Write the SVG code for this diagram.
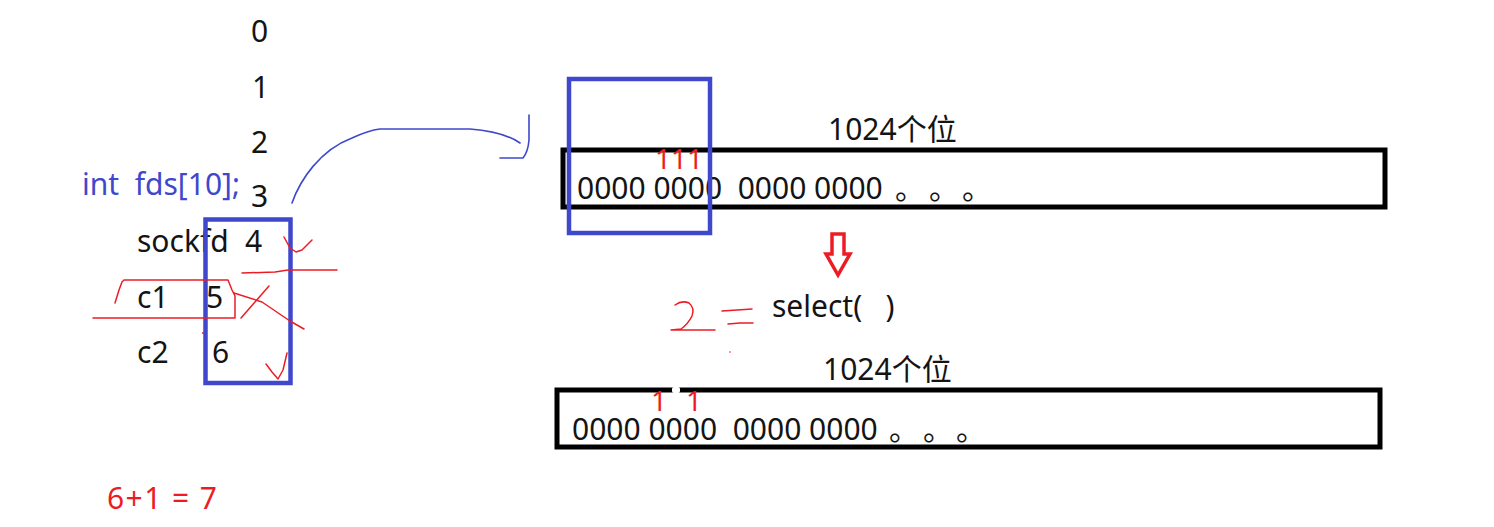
<svg xmlns="http://www.w3.org/2000/svg" width="1494" height="527" viewBox="0 0 1494 527">
<style>
.t{font-family:"Noto Sans","Noto Sans CJK SC",sans-serif;font-size:30px;fill:#141414;white-space:pre}
.cjk{font-family:"Noto Sans CJK SC",sans-serif}
.blue{fill:#3F48CC}
.red{fill:#ED1C24}
.box{fill:none;stroke:#000;stroke-width:5}
.sel{fill:none;stroke:#3F48CC;stroke-width:4.5}
.ink{fill:none;stroke:#ED1C24;stroke-width:1.5;stroke-linecap:round;stroke-linejoin:round}
.bink{fill:none;stroke:#3F48CC;stroke-width:1.6;stroke-linecap:round;stroke-linejoin:round}
</style>
<rect width="1494" height="527" fill="#fff"/>

<g id="fd-table">
<text class="t" x="251" y="42">0</text>
<text class="t" x="252" y="98">1</text>
<text class="t" x="251" y="153">2</text>
<text class="t" x="251" y="207">3</text>
<text class="t blue" x="82" y="195">int  fds[10];</text>
<text class="t" x="137" y="252">sockfd</text>
<text class="t" x="245" y="252">4</text>
<text class="t" x="137" y="308">c1</text>
<text class="t" x="206" y="308">5</text>
<text class="t" x="137" y="363">c2</text>
<text class="t" x="212" y="363">6</text>
<rect class="sel" x="205.5" y="219.5" width="85" height="163.5"/>
</g>

<g id="fd-marks">
<path class="ink" d="M284,237 L290,248 L296,252 L302,250 L312,240"/>
<path class="ink" d="M242,273 L275,272 L288,270 L337,270"/>
<path class="ink" d="M115,303 L119,290 L122,282 L124,280 L228,280 L232,290 L235,296 L235,318 L93,318"/>
<path class="ink" d="M234,293 L262,302 L290,321 L304,329"/>
<path class="ink" d="M269,286 L255,302 L241,318"/>
<path class="ink" d="M266,364 L272,372 L278,379 L283,370 L287,353"/>
<circle cx="203" cy="333" r="1" fill="#ED1C24"/>
</g>

<g id="bitmap-before">
<text class="t" x="828" y="140">1024个位</text>
<rect class="box" x="563" y="150" width="822" height="57"/>
<text class="t red" x="655" y="169" style="font-size:28px">111</text>
<text class="t" x="577" y="199">0000 0000  0000 0000</text>
<text class="t cjk" x="895 929 962" y="199">。。。</text>
<rect class="sel" x="569" y="79" width="141" height="154"/>
</g>

<g id="select-call">
<text class="t" x="772" y="317">select(   )</text>
<path class="ink" d="M675,305 Q682,300 689,303 Q695,308 692,316 Q688,324 681,329 L671,330 L715,330"/>
<path class="ink" d="M722,311 L737,310 L752,309"/>
<path class="ink" d="M728,324 L740,323 L753,323"/>
<circle cx="730" cy="352" r="0.8" fill="#ED1C24"/>
</g>

<g id="bitmap-after">
<text class="t" x="823" y="380">1024个位</text>
<rect class="box" x="557" y="390" width="823" height="57"/>
<text class="t red" x="651" y="411" style="font-size:28px">1</text>
<text class="t red" x="686" y="411" style="font-size:28px">1</text>
<rect x="672" y="387" width="8" height="6" rx="2" fill="#fff"/>
<text class="t" x="572" y="440">0000 0000  0000 0000</text>
<text class="t cjk" x="889 923 956" y="440">。。。</text>
</g>

<g id="result">
<text class="t red" x="107" y="509" textLength="110" lengthAdjust="spacing">6+1 = 7</text>
</g>

<g id="connectors">
<path class="bink" d="M292,203 C300,180 320,150 352,138 C365,132 372,130 380,129 L470,129 C495,131 510,136 520,143"/>
<path class="bink" d="M529,115 L529,140 Q528,152 523,158 L500,158"/>
<path d="M832,234 L844,234 L844,254 L850,254 L838,275 L826,254 L832,254 Z" fill="none" stroke="#ED1C24" stroke-width="3.5" stroke-linejoin="miter"/>
</g>
</svg>
